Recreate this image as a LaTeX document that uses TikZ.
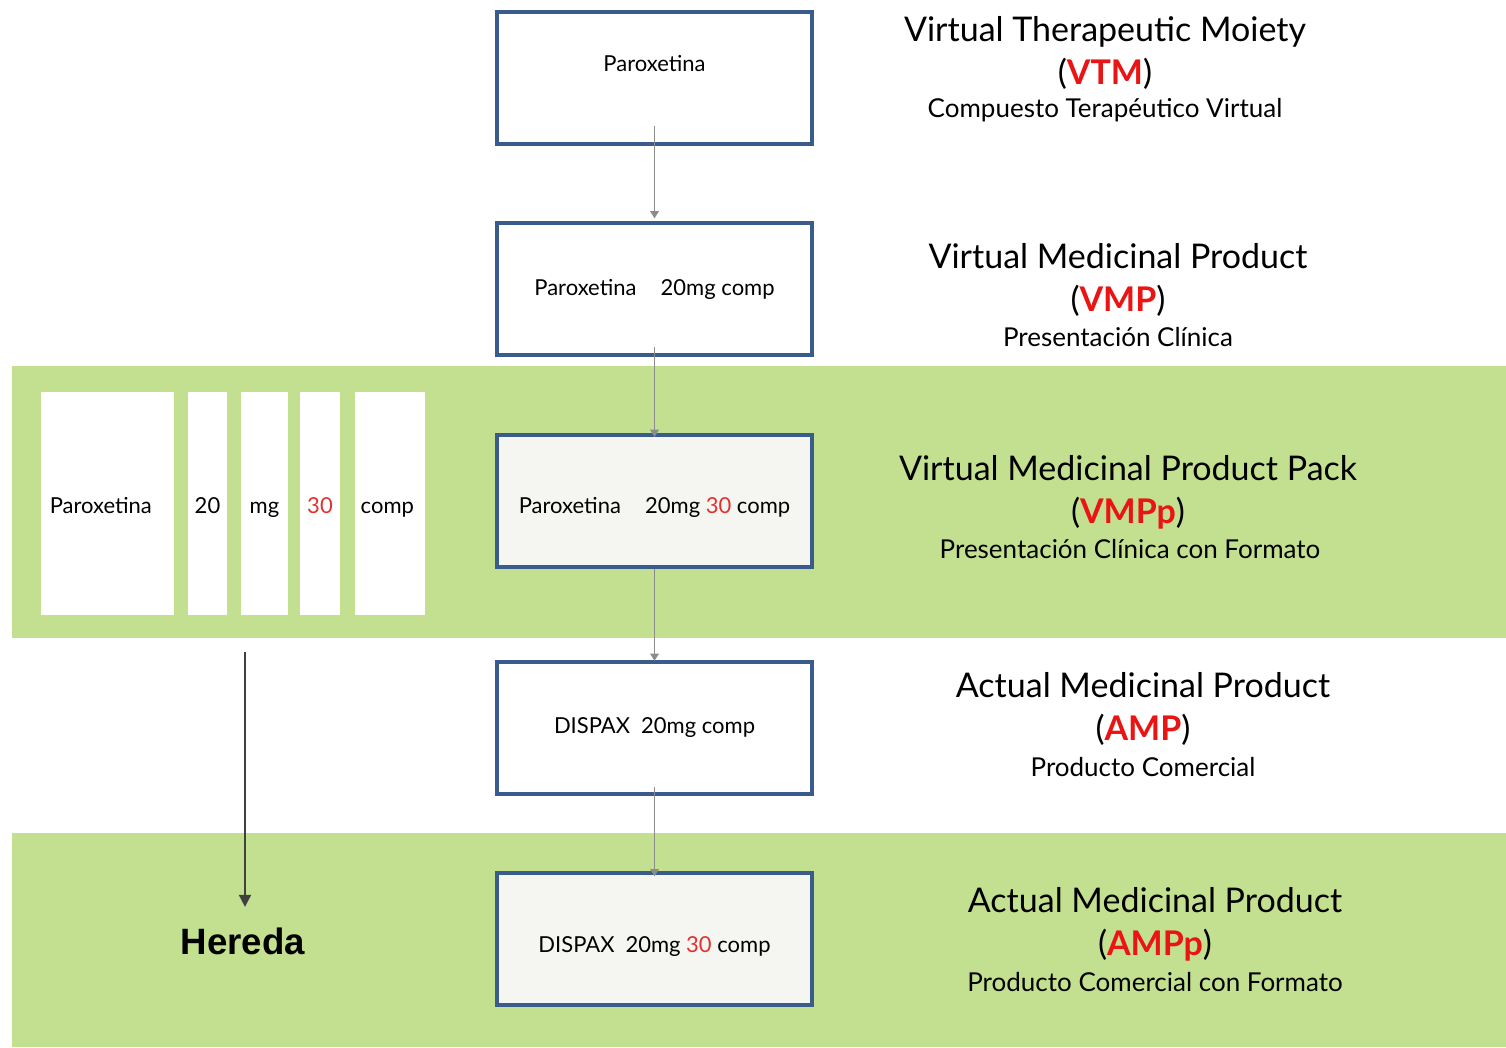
\documentclass[tikz,border=0pt]{standalone}
\usepackage{fontspec}
\setmainfont{Lato}
\newfontfamily\herfont{Liberation Sans}
\usetikzlibrary{arrows.meta}
\definecolor{bandgreen}{RGB}{195,224,144}
\definecolor{boxblue}{RGB}{58,92,140}
\definecolor{acro}{RGB}{235,20,20}
\definecolor{numred}{RGB}{225,50,50}
\definecolor{conngray}{RGB}{140,140,140}
\definecolor{boxfill}{RGB}{245,246,241}
\tikzset{
  box/.style={draw=boxblue, line width=3pt, minimum width=236pt, minimum height=99pt, inner sep=0pt, font=\fontsize{16.5}{19}\selectfont},
  wbox/.style={fill=white, inner sep=0pt, text height=18.5pt, text depth=3pt, font=\fontsize{16.5}{19}\selectfont},
  conn/.style={draw=conngray, line width=1.2pt, -{Triangle[width=6.5pt,length=5.5pt]}},
  title/.style={align=center, font=\fontsize{25.5}{32}\selectfont},
  sub/.style={font=\fontsize{19.5}{23}\selectfont},
}
\newcommand{\acr}[1]{\textcolor{acro}{\bfseries #1}}
\newcommand{\boxtxt}[2]{\raisebox{#1}[0pt][0pt]{#2}}
\begin{document}
\begin{tikzpicture}[x=0.75pt,y=-0.75pt]
\useasboundingbox (0,0) rectangle (1506,1047);
\fill[white] (0,0) rectangle (1506,1047);
% bands
\fill[bandgreen] (12,366) rectangle (1506,638);
\fill[bandgreen] (12,833) rectangle (1506,1047);
% main boxes
\node[box, fill=white] (b1) at (654.5,78) {\boxtxt{5pt}{Paroxetina}};
\node[box, fill=white] (b2) at (654.5,289) {Paroxetina\hspace{1.1em}20mg comp};
\node[box, fill=boxfill] (b3) at (654.5,501) {\boxtxt{-9.2pt}{Paroxetina\hspace{1.1em}20mg \textcolor{numred}{30} comp}};
\node[box, fill=white] (b4) at (654.5,727.5) {DISPAX\hspace{0.5em}20mg comp};
\node[box, fill=boxfill] (b5) at (654.5,939) {\boxtxt{-9.9pt}{DISPAX\hspace{0.5em}20mg \textcolor{numred}{30} comp}};
% connectors
\draw[conn] ([yshift=15pt]b1.south) -- ([yshift=2pt]b2.north);
\draw[conn] ([yshift=7.5pt]b2.south) -- ([yshift=-3pt]b3.north);
\draw[conn] (b3.south) -- ([yshift=-1pt]b4.north);
\draw[conn] ([yshift=6.5pt]b4.south) -- ([yshift=-4pt]b5.north);
% left decomposition
\node[wbox, minimum width=100pt, minimum height=167pt] (w1) at (107.5,503.5) {\hspace*{-10pt}Paroxetina};
\node[wbox, minimum width=29pt, minimum height=167pt] (w2) at (207.5,503.5) {20};
\node[wbox, minimum width=35pt, minimum height=167pt] (w3) at (264.5,503.5) {mg};
\node[wbox, minimum width=30pt, minimum height=167pt] (w4) at (320,503.5) {\textcolor{numred}{30}};
\node[wbox, minimum width=53pt, minimum height=167pt] (w5) at (390,503.5) {\hspace*{-4pt}comp};
\coordinate (hs) at (245,652);
\node[font=\herfont\bfseries\fontsize{27.5}{32}\selectfont] (her) at (243,941) {Hereda};
\draw[draw=black!75, line width=1.5pt, -{Triangle[width=9pt,length=9pt]}] (hs) -- ([yshift=12pt]her.north -| hs);
% right titles
\node[title] (t1) at (1105,53) {Virtual Therapeutic Moiety\\(\acr{VTM})};
\node[sub] (s1) at (1105,110) {Compuesto Terapéutico Virtual};
\node[title] (t2) at (1118,280) {Virtual Medicinal Product\\(\acr{VMP})};
\node[sub] (s2) at (1118,337) {Presentación Clínica};
\node[title] (t3) at (1128,492) {Virtual Medicinal Product Pack\\(\acr{VMPp})};
\node[sub] (s3) at (1130,549) {Presentación Clínica con Formato};
\node[title] (t4) at (1143,709) {Actual Medicinal Product\\(\acr{AMP})};
\node[sub] (s4) at (1143,767) {Producto Comercial};
\node[title] (t5) at (1155,924) {Actual Medicinal Product\\(\acr{AMPp})};
\node[sub] (s5) at (1155,982) {Producto Comercial con Formato};
\end{tikzpicture}
\end{document}
